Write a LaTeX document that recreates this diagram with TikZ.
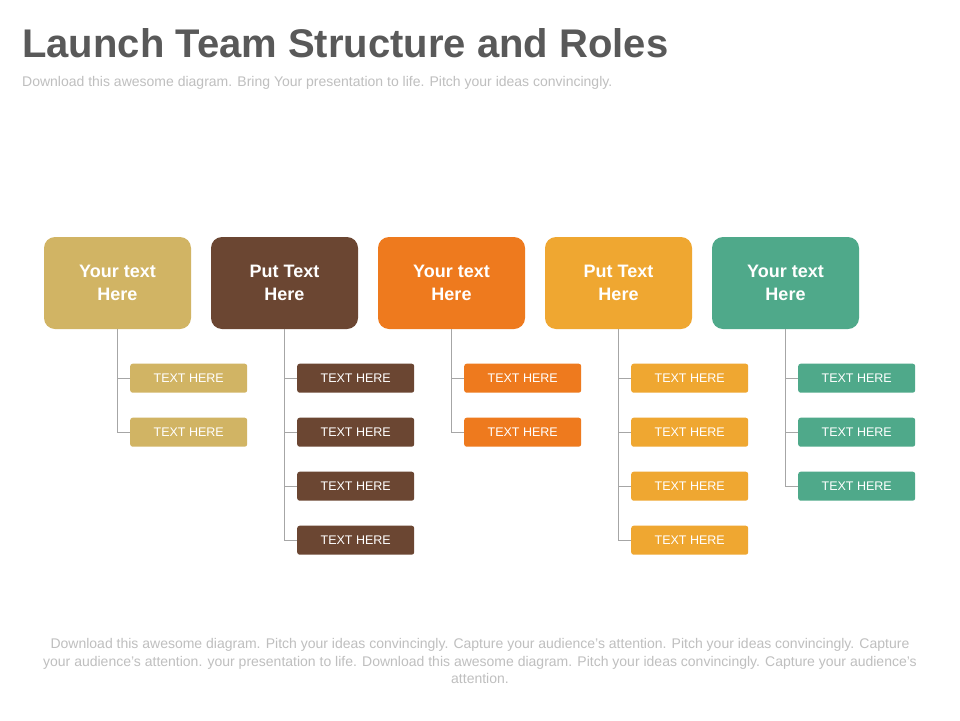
\documentclass[tikz,border=0pt]{standalone}
\usepackage{fontspec}
\setmainfont{Liberation Sans}
\usetikzlibrary{calc}
\definecolor{cTan}{HTML}{D1B464}
\definecolor{cBrown}{HTML}{6B4632}
\definecolor{cOrange}{HTML}{EE7A1E}
\definecolor{cYellow}{HTML}{EFA731}
\definecolor{cGreen}{HTML}{4FA98A}
\definecolor{cTitle}{HTML}{595959}
\definecolor{cNote}{HTML}{BFBFBF}
\tikzset{
  headbox/.style={rounded corners=11pt,minimum width=147pt,minimum height=92pt,align=center,text=white,font=\bfseries\fontsize{18}{23}\selectfont},
  itembox/.style={rounded corners=2.5pt,minimum width=117pt,minimum height=29pt,text=white,font=\fontsize{12.5}{14}\selectfont},
  link/.style={draw=black!35,line width=0.8pt}
}
\begin{document}
\begin{tikzpicture}[x=1pt,y=-1pt]
\useasboundingbox[fill=white] (0,0) rectangle (960,720);
% Title and subtitle
\node[anchor=base west,text=cTitle,font=\bfseries\fontsize{40}{44}\selectfont,inner sep=0] (title) at (22,57) {Launch Team Structure and Roles};
\node[anchor=base west,text=cNote,font=\fontsize{14}{16}\selectfont,inner sep=0] (sub) at (22,86) {Download this awesome diagram. Bring Your presentation to life. Pitch your ideas convincingly.};
% Head boxes
\node[headbox,fill=cTan] (h1) at (117.5,283) {Your text\\Here};
\node[headbox,fill=cBrown] (h2) at (284.5,283) {Put Text\\Here};
\node[headbox,fill=cOrange] (h3) at (451.5,283) {Your text\\Here};
\node[headbox,fill=cYellow] (h4) at (618.5,283) {Put Text\\Here};
\node[headbox,fill=cGreen] (h5) at (785.5,283) {Your text\\Here};
% Item boxes and links
\foreach \i/\col/\n in {1/cTan/2,2/cBrown/4,3/cOrange/2,4/cYellow/4,5/cGreen/3}{
  \foreach \j in {1,...,\n}{
    \node[itembox,fill=\col,anchor=west] (t\i\j) at ($(h\i.south)+(12.5,49+54*\j-54)$) {TEXT HERE};
  }
  \coordinate (c\i) at ($(h\i.south)+(0,49+54*\n-54)$);
  \draw[link] (h\i.south) -- (c\i) -- (t\i\n.west);
  \foreach \j in {1,...,\n}{
    \draw[link] (t\i\j.west) -- ++(-12.5,0);
  }
}
% Footer
\node[text=cNote,align=center,font=\fontsize{14}{17.5}\selectfont,inner sep=0] (foot) at (480,661) {Download this awesome diagram. Pitch your ideas convincingly.  Capture your audience's attention. Pitch your ideas convincingly. Capture\\your audience's attention. your presentation to life. Download this awesome diagram. Pitch your ideas convincingly. Capture your audience's\\attention.};
\end{tikzpicture}
\end{document}
